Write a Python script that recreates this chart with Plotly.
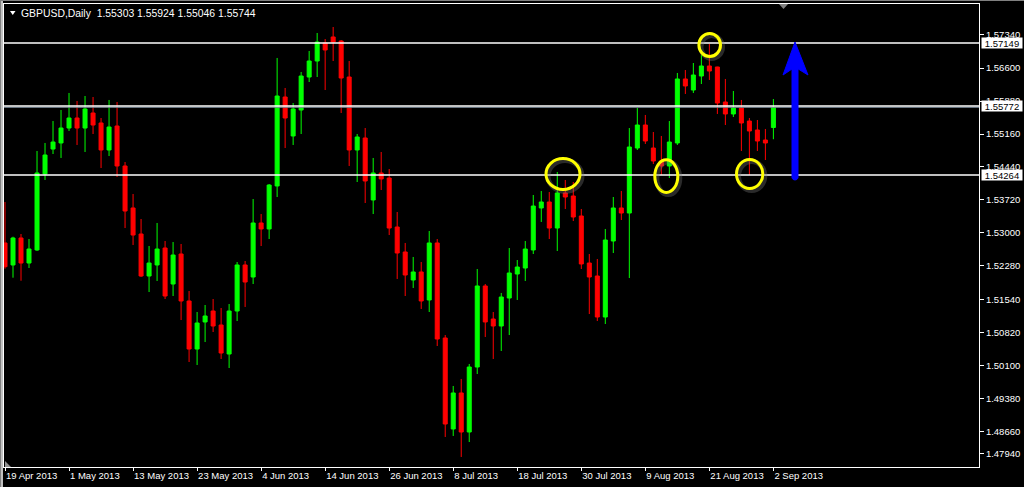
import plotly.graph_objects as go
import pandas as pd

# ---------------- data (GBPUSD, Daily) ----------------
dates = pd.bdate_range("2013-04-19", "2013-09-02")

open_ = [1.52778, 1.52297, 1.52887, 1.52340, 1.52625, 1.54286, 1.54832, 1.54964, 1.55291, 1.55510,
         1.55291, 1.55619, 1.55401, 1.54811, 1.55335, 1.54461, 1.53543, 1.52974, 1.52056, 1.52297,
         1.52668, 1.51881, 1.52537, 1.51510, 1.50460, 1.51051, 1.51291, 1.50985, 1.50351, 1.51291,
         1.52297, 1.52034, 1.53215, 1.53084, 1.54024, 1.55969, 1.55117, 1.55685, 1.56406, 1.56756,
         1.57150, 1.57281, 1.57193, 1.56406, 1.54811, 1.55073, 1.53718, 1.54308, 1.54198, 1.53127,
         1.52581, 1.51969, 1.52144, 1.51532, 1.52778, 1.50701, 1.48712, 1.49499, 1.48646, 1.50067,
         1.51838, 1.51116, 1.50963, 1.51575, 1.52100, 1.52231, 1.52625, 1.53543, 1.53674, 1.53105,
         1.53871, 1.53805, 1.53368, 1.52340, 1.52056, 1.51160, 1.52821, 1.53543, 1.53433, 1.54854,
         1.55357, 1.54854, 1.54570, 1.54461, 1.54964, 1.56363, 1.56122, 1.56428, 1.56647, 1.56625,
         1.55860, 1.55598, 1.55729, 1.55444, 1.55248, 1.55029, 1.55303]
high = [1.53674, 1.52915, 1.52974, 1.52865, 1.54789, 1.54964, 1.55444, 1.55685, 1.56057, 1.55882,
        1.55991, 1.55969, 1.55510, 1.55904, 1.55860, 1.54548, 1.53849, 1.53302, 1.52712, 1.53215,
        1.52821, 1.52799, 1.52756, 1.51728, 1.51269, 1.51422, 1.51553, 1.51357, 1.51444, 1.52362,
        1.52384, 1.53739, 1.53411, 1.54067, 1.56822, 1.56166, 1.55838, 1.56516, 1.56975, 1.57368,
        1.57237, 1.57499, 1.57215, 1.56756, 1.55160, 1.55291, 1.54636, 1.54767, 1.54395, 1.53455,
        1.52778, 1.52472, 1.52362, 1.53040, 1.52865, 1.50766, 1.49652, 1.49805, 1.50133, 1.52209,
        1.51881, 1.51269, 1.51685, 1.52668, 1.52406, 1.52821, 1.53827, 1.53914, 1.53892, 1.54330,
        1.54155, 1.54111, 1.53521, 1.52537, 1.52428, 1.53084, 1.53783, 1.53914, 1.55291, 1.55729,
        1.55576, 1.55204, 1.55117, 1.55444, 1.56494, 1.56559, 1.56712, 1.56887, 1.57128, 1.56630,
        1.56363, 1.56100, 1.55904, 1.55510, 1.55466, 1.55270, 1.55924]
low = [1.52216, 1.52019, 1.51953, 1.52231, 1.52603, 1.54155, 1.54723, 1.54636, 1.55226, 1.54920,
       1.54767, 1.55160, 1.54417, 1.54679, 1.54220, 1.53105, 1.52734, 1.52034, 1.51706, 1.51947,
       1.51553, 1.51619, 1.51094, 1.50176, 1.50111, 1.50613, 1.50832, 1.50242, 1.50045, 1.51072,
       1.51379, 1.51881, 1.52712, 1.52865, 1.53783, 1.54854, 1.54920, 1.55160, 1.56297, 1.56406,
       1.56122, 1.56756, 1.55619, 1.54461, 1.54111, 1.53652, 1.53411, 1.53936, 1.52952, 1.51991,
       1.51619, 1.51794, 1.51335, 1.51269, 1.50526, 1.48537, 1.48559, 1.48100, 1.48427, 1.49914,
       1.50723, 1.50242, 1.50417, 1.50766, 1.51532, 1.51947, 1.52537, 1.53237, 1.52865, 1.52603,
       1.53521, 1.53258, 1.52209, 1.51225, 1.51072, 1.51007, 1.52559, 1.53280, 1.52012, 1.54811,
       1.54942, 1.54504, 1.54264, 1.54198, 1.54920, 1.56035, 1.56057, 1.56253, 1.56341, 1.55598,
       1.55357, 1.55532, 1.54789, 1.54264, 1.54789, 1.54592, 1.55046]
close = [1.52259, 1.52887, 1.52340, 1.52646, 1.54308, 1.54701, 1.54985, 1.55291, 1.55510, 1.55291,
         1.55707, 1.55357, 1.54811, 1.55313, 1.54461, 1.53477, 1.52952, 1.52056, 1.52340, 1.52646,
         1.51619, 1.52515, 1.51510, 1.50460, 1.51029, 1.51182, 1.50963, 1.50373, 1.51291, 1.52297,
         1.51925, 1.53215, 1.53084, 1.54045, 1.55991, 1.55510, 1.55707, 1.56428, 1.56756, 1.57171,
         1.56997, 1.57171, 1.56384, 1.54811, 1.55095, 1.54133, 1.54308, 1.54177, 1.53105, 1.52559,
         1.52078, 1.52144, 1.51510, 1.52778, 1.50679, 1.48821, 1.49499, 1.48646, 1.50067, 1.51838,
         1.51051, 1.50963, 1.51597, 1.52122, 1.52253, 1.52646, 1.53586, 1.53674, 1.53105, 1.53871,
         1.53783, 1.53346, 1.52319, 1.52034, 1.51160, 1.52843, 1.53543, 1.53433, 1.54876, 1.55357,
         1.55007, 1.54570, 1.54461, 1.54985, 1.56363, 1.56210, 1.56450, 1.56647, 1.56537, 1.55838,
         1.55598, 1.55729, 1.55401, 1.55226, 1.55007, 1.54964, 1.55744]

tick_dates = ["2013-04-19", "2013-05-01", "2013-05-13", "2013-05-23", "2013-06-04", "2013-06-14",
              "2013-06-26", "2013-07-08", "2013-07-18", "2013-07-30", "2013-08-09", "2013-08-21",
              "2013-09-02"]
tick_labels = ["19 Apr 2013", "1 May 2013", "13 May 2013", "23 May 2013", "4 Jun 2013", "14 Jun 2013",
               "26 Jun 2013", "8 Jul 2013", "18 Jul 2013", "30 Jul 2013", "9 Aug 2013", "21 Aug 2013",
               "2 Sep 2013"]

price_ticks = [1.57340, 1.56600, 1.55880, 1.55160, 1.54440, 1.53720, 1.53000, 1.52280, 1.51540,
               1.50820, 1.50100, 1.49380, 1.48660, 1.48172]
price_tick_labels = ["1.57340", "1.56600", "1.55880", "1.55160", "1.54440", "1.53720", "1.53000",
                     "1.52280", "1.51540", "1.50820", "1.50100", "1.49380", "1.48660", "1.47940"]

levels = [1.57149, 1.55772, 1.54264]
bid = 1.55744
header = "GBPUSD,Daily  1.55303 1.55924 1.55046 1.55744"

# ---------------- figure ----------------
W, H = 1024, 487
L, R, T, B = 4, 45, 4, 20
PW, PH = W - L - R, H - T - B


def pxp(px):
    return (px - L) / PW


def pyp(py):
    return (H - B - py) / PH


xs = list(range(len(dates)))
tickvals = [dates.get_loc(pd.Timestamp(d)) for d in tick_dates]

fig = go.Figure()
fig.add_trace(go.Candlestick(
    x=xs, open=open_, high=high, low=low, close=close,
    increasing=dict(line=dict(color="#00FF00", width=1), fillcolor="#00FF00"),
    decreasing=dict(line=dict(color="#FF0000", width=1), fillcolor="#FF0000"),
    whiskerwidth=0, hoverinfo="skip", showlegend=False,
))

FONT = "Liberation Sans, Arial, sans-serif"
FS = 9.5

shapes = []
shapes.append(dict(type="line", xref="paper", yref="y", x0=0, x1=1, y0=bid, y1=bid,
                   line=dict(color="#8090A0", width=1), layer="above"))
for lv in levels:
    shapes.append(dict(type="line", xref="paper", yref="y", x0=0, x1=1, y0=lv, y1=lv,
                       line=dict(color="white", width=1.4), layer="above"))

# yellow highlight ellipses (pixel boxes)
for (x0, y0, x1, y1) in [(546, 158.5, 580, 189.5), (698.9, 33.5, 720.5, 56.5),
                         (654.8, 159.8, 677.8, 192.5), (736.5, 159.5, 762.8, 188.5)]:
    shapes.append(dict(type="circle", xref="paper", yref="paper",
                       x0=pxp(x0 + 2), x1=pxp(x1 + 2), y0=pyp(y0 + 2), y1=pyp(y1 + 2),
                       line=dict(color="rgba(120,120,120,0.35)", width=5), layer="above"))
    shapes.append(dict(type="circle", xref="paper", yref="paper",
                       x0=pxp(x0), x1=pxp(x1), y0=pyp(y0), y1=pyp(y1),
                       line=dict(color="#FFFF00", width=3), layer="above"))

# blue arrow
shapes.append(dict(type="path", xref="paper", yref="paper",
                   path=f"M {pxp(791.5)},{pyp(66)} L {pxp(798.5)},{pyp(66)} L {pxp(798.5)},{pyp(178)} "
                        f"Q {pxp(795)},{pyp(183)} {pxp(791.5)},{pyp(178)} Z",
                   fillcolor="#0000FF", line=dict(color="#0000FF", width=0), layer="above"))
shapes.append(dict(type="path", xref="paper", yref="paper",
                   path=f"M {pxp(783)},{pyp(75)} L {pxp(795)},{pyp(42)} L {pxp(808)},{pyp(75)} "
                        f"L {pxp(795)},{pyp(67)} Z",
                   fillcolor="#0000FF", line=dict(color="#0000FF", width=1), layer="above"))

# small chart-shift marker at top and the corner marker bottom-left
shapes.append(dict(type="path", xref="paper", yref="paper",
                   path=f"M {pxp(779)},{pyp(4)} L {pxp(788)},{pyp(4)} L {pxp(783.5)},{pyp(9)} Z",
                   fillcolor="#808080", line=dict(width=0), layer="above"))
shapes.append(dict(type="path", xref="paper", yref="paper",
                   path=f"M {pxp(5)},{pyp(467)} L {pxp(5)},{pyp(461)} L {pxp(11)},{pyp(467)} Z",
                   fillcolor="#909090", line=dict(width=0), layer="above"))
# window frame
shapes.append(dict(type="line", xref="paper", yref="paper", x0=pxp(0), x1=pxp(W), y0=pyp(0.5), y1=pyp(0.5),
                   line=dict(color="#808080", width=1)))
shapes.append(dict(type="line", xref="paper", yref="paper", x0=pxp(0.5), x1=pxp(0.5), y0=pyp(0), y1=pyp(H),
                   line=dict(color="#808080", width=1)))
shapes.append(dict(type="line", xref="paper", yref="paper", x0=pxp(2), x1=pxp(2), y0=pyp(1), y1=pyp(H),
                   line=dict(color="#C0C0C0", width=2)))
# header triangle
shapes.append(dict(type="path", xref="paper", yref="paper",
                   path=f"M {pxp(10)},{pyp(11)} L {pxp(15.5)},{pyp(11)} L {pxp(12.75)},{pyp(15)} Z",
                   fillcolor="white", line=dict(width=0), layer="above"))

annotations = [dict(text=header, xref="paper", yref="paper", x=pxp(19), y=pyp(13.5),
                    xanchor="left", yanchor="middle", showarrow=False,
                    font=dict(family=FONT, size=10.4, color="white"))]
for lv in levels:
    annotations.append(dict(text=f"{lv:.5f}", xref="paper", yref="y", x=pxp(980.5), y=lv,
                            xanchor="left", yanchor="middle", showarrow=False,
                            bgcolor="white", width=40, height=10, borderpad=0,
                            font=dict(family=FONT, size=FS, color="black")))

fig.update_layout(
    width=W, height=H, margin=dict(l=L, r=R, t=T, b=B),
    paper_bgcolor="black", plot_bgcolor="black", showlegend=False,
    boxgap=0.5, boxgroupgap=0,
    font=dict(family=FONT, size=FS, color="white"),
    shapes=shapes, annotations=annotations,
    xaxis=dict(range=[(L + 0.5 - 5.5) / 8, (W - R - 5.5) / 8], tickvals=tickvals, ticktext=tick_labels,
               ticks="outside", ticklen=3, tickcolor="white", showgrid=False, zeroline=False,
               showline=True, linecolor="white", linewidth=1, mirror=True, tickangle=0,
               ticklabelposition="outside right", rangeslider=dict(visible=False),
               tickfont=dict(family=FONT, size=FS, color="white")),
    yaxis=dict(range=[1.47881, 1.58002], side="right", tickvals=price_ticks, ticktext=price_tick_labels,
               ticks="outside", ticklen=4, tickcolor="white", showgrid=False, zeroline=False,
               showline=True, linecolor="white", linewidth=1, mirror=True,
               tickfont=dict(family=FONT, size=FS, color="white")),
)

fig.write_html("out.html", config={"displayModeBar": False, "staticPlot": True},
               post_script="document.body.style.margin='0';document.body.style.background='black';")
